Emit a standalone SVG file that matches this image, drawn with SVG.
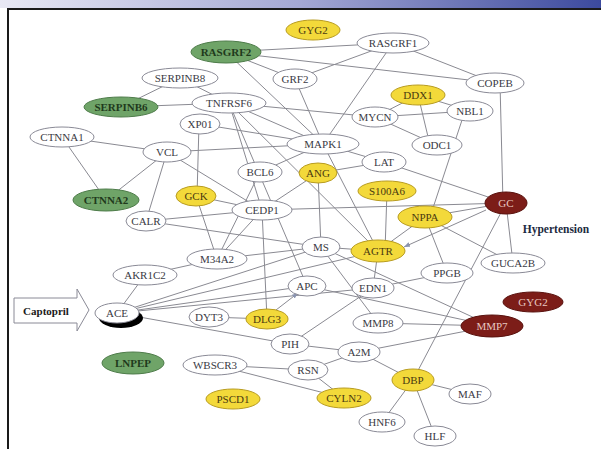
<svg xmlns="http://www.w3.org/2000/svg" width="601" height="449" viewBox="0 0 601 449">
<defs>
<linearGradient id="bar" x1="0" y1="0" x2="1" y2="0">
<stop offset="0" stop-color="#e8e8f4"/><stop offset="0.5" stop-color="#a4a8d4"/><stop offset="1" stop-color="#3c4a9e"/>
</linearGradient>
<marker id="ah" viewBox="0 0 10 10" refX="10" refY="5" markerWidth="6" markerHeight="6" orient="auto"><path d="M0,1 L10,5 L0,9 z" fill="#8a94b0"/></marker>
<style>
.e{stroke:#8a8a92;stroke-width:1;fill:none}
.w{fill:#fff;stroke:#8a8a96;stroke-width:1}
.y{fill:#f3d93a;stroke:#b89c20;stroke-width:1}
.g{fill:#6fa468;stroke:#4e7c4a;stroke-width:1}
.r{fill:#7c1d18;stroke:#5a120e;stroke-width:1}
text{font-family:"Liberation Serif","Times New Roman",serif;font-size:11px;text-anchor:middle;dominant-baseline:central;fill:#3a3a44}
.yt{fill:#4a3a10}
.gt{fill:#1f3a1c;font-weight:bold}
.rt{fill:#e8c8c0}
</style>
</defs>
<rect x="0" y="0" width="601" height="449" fill="#fff"/>
<rect x="0" y="0" width="601" height="8" fill="url(#bar)"/>
<rect x="7" y="8" width="594" height="2" fill="#1a1a1a"/>
<rect x="7" y="8" width="2" height="441" fill="#1a1a1a"/>
<g id="connectors">
<line class="e" x1="226" y1="52" x2="295" y2="79"/>
<line class="e" x1="226" y1="52" x2="393" y2="43"/>
<line class="e" x1="226" y1="52" x2="495" y2="83"/>
<line class="e" x1="226" y1="52" x2="323" y2="144"/>
<line class="e" x1="295" y1="79" x2="393" y2="43"/>
<line class="e" x1="295" y1="79" x2="323" y2="144"/>
<line class="e" x1="393" y1="43" x2="495" y2="83"/>
<line class="e" x1="393" y1="43" x2="323" y2="144"/>
<line class="e" x1="500" y1="83" x2="503" y2="203"/>
<line class="e" x1="418" y1="95" x2="375" y2="117"/>
<line class="e" x1="418" y1="95" x2="470" y2="111"/>
<line class="e" x1="418" y1="95" x2="430" y2="145"/>
<line class="e" x1="375" y1="117" x2="470" y2="111"/>
<line class="e" x1="375" y1="117" x2="437" y2="145"/>
<line class="e" x1="465" y1="111" x2="430" y2="217"/>
<line class="e" x1="229" y1="103" x2="375" y2="117"/>
<line class="e" x1="229" y1="103" x2="323" y2="144"/>
<line class="e" x1="180" y1="78" x2="121" y2="107"/>
<line class="e" x1="180" y1="78" x2="229" y2="103"/>
<line class="e" x1="121" y1="107" x2="229" y2="103"/>
<line class="e" x1="62" y1="137" x2="167" y2="152"/>
<line class="e" x1="62" y1="137" x2="106" y2="200"/>
<line class="e" x1="167" y1="152" x2="106" y2="200"/>
<line class="e" x1="167" y1="152" x2="146" y2="221"/>
<line class="e" x1="167" y1="152" x2="323" y2="144"/>
<line class="e" x1="167" y1="152" x2="262" y2="210"/>
<line class="e" x1="199" y1="124" x2="197" y2="196"/>
<line class="e" x1="200" y1="124" x2="323" y2="144"/>
<line class="e" x1="196" y1="196" x2="262" y2="210"/>
<line class="e" x1="196" y1="196" x2="217" y2="259"/>
<line class="e" x1="146" y1="221" x2="262" y2="210"/>
<line class="e" x1="146" y1="221" x2="321" y2="247"/>
<line class="e" x1="217" y1="259" x2="262" y2="210"/>
<line class="e" x1="217" y1="259" x2="260" y2="172"/>
<line class="e" x1="217" y1="259" x2="145" y2="275"/>
<line class="e" x1="217" y1="259" x2="321" y2="247"/>
<line class="e" x1="145" y1="275" x2="117" y2="313"/>
<line class="e" x1="117" y1="313" x2="290" y2="344"/>
<line class="e" x1="117" y1="313" x2="321" y2="247"/>
<line class="e" x1="117" y1="313" x2="307" y2="286"/>
<line class="e" x1="117" y1="313" x2="373" y2="288"/>
<line class="e" x1="117" y1="313" x2="378" y2="251"/>
<line class="e" x1="209" y1="317" x2="267" y2="319"/>
<line class="e" x1="276" y1="310" x2="298" y2="293" marker-end="url(#ah)"/>
<line class="e" x1="267" y1="319" x2="262" y2="210"/>
<line class="e" x1="290" y1="344" x2="359" y2="352"/>
<line class="e" x1="290" y1="344" x2="373" y2="288"/>
<line class="e" x1="359" y1="352" x2="492" y2="326"/>
<line class="e" x1="359" y1="352" x2="308" y2="370"/>
<line class="e" x1="359" y1="352" x2="413" y2="380"/>
<line class="e" x1="308" y1="370" x2="344" y2="398"/>
<line class="e" x1="215" y1="365" x2="308" y2="370"/>
<line class="e" x1="215" y1="365" x2="344" y2="398"/>
<line class="e" x1="413" y1="380" x2="470" y2="394"/>
<line class="e" x1="413" y1="380" x2="382" y2="422"/>
<line class="e" x1="413" y1="380" x2="435" y2="436"/>
<line class="e" x1="413" y1="380" x2="506" y2="203"/>
<line class="e" x1="378" y1="323" x2="492" y2="326"/>
<line class="e" x1="321" y1="247" x2="492" y2="326"/>
<line class="e" x1="307" y1="286" x2="492" y2="326"/>
<line class="e" x1="378" y1="251" x2="425" y2="217"/>
<line class="e" x1="385" y1="251" x2="387" y2="191"/>
<line class="e" x1="486" y1="210" x2="404" y2="247" marker-end="url(#ah)"/>
<line class="e" x1="378" y1="251" x2="373" y2="288"/>
<line class="e" x1="425" y1="217" x2="506" y2="203"/>
<line class="e" x1="425" y1="217" x2="447" y2="273"/>
<line class="e" x1="425" y1="217" x2="513" y2="263"/>
<line class="e" x1="506" y1="203" x2="513" y2="263"/>
<line class="e" x1="506" y1="203" x2="384" y2="162"/>
<line class="e" x1="262" y1="210" x2="506" y2="203"/>
<line class="e" x1="447" y1="273" x2="373" y2="288"/>
<line class="e" x1="323" y1="144" x2="384" y2="162"/>
<line class="e" x1="323" y1="144" x2="378" y2="251"/>
<line class="e" x1="318" y1="173" x2="384" y2="162"/>
<line class="e" x1="318" y1="173" x2="321" y2="247"/>
<line class="e" x1="318" y1="173" x2="262" y2="210"/>
<line class="e" x1="229" y1="103" x2="262" y2="210"/>
<line class="e" x1="229" y1="103" x2="307" y2="286"/>
<line class="e" x1="229" y1="103" x2="378" y2="251"/>
<line class="e" x1="260" y1="172" x2="323" y2="144"/>
<line class="e" x1="321" y1="247" x2="378" y2="251"/>
<line class="e" x1="321" y1="247" x2="378" y2="323"/>
</g>
<g id="n-GYG2a"><ellipse class="y" cx="313" cy="30" rx="27" ry="10"/><text class="yt" x="313" y="30">GYG2</text></g>
<g id="n-RASGRF2"><ellipse class="g" cx="226" cy="52" rx="35" ry="11"/><text class="gt" x="226" y="52">RASGRF2</text></g>
<g id="n-RASGRF1"><ellipse class="w" cx="393" cy="43" rx="36" ry="10"/><text x="393" y="43">RASGRF1</text></g>
<g id="n-GRF2"><ellipse class="w" cx="295" cy="79" rx="22" ry="10"/><text x="295" y="79">GRF2</text></g>
<g id="n-COPEB"><ellipse class="w" cx="495" cy="83" rx="29" ry="10"/><text x="495" y="83">COPEB</text></g>
<g id="n-SERPINB8"><ellipse class="w" cx="180" cy="78" rx="38" ry="10"/><text x="180" y="78">SERPINB8</text></g>
<g id="n-SERPINB6"><ellipse class="g" cx="121" cy="107" rx="37" ry="10"/><text class="gt" x="121" y="107">SERPINB6</text></g>
<g id="n-TNFRSF6"><ellipse class="w" cx="229" cy="103" rx="37" ry="10"/><text x="229" y="103">TNFRSF6</text></g>
<g id="n-DDX1"><ellipse class="y" cx="418" cy="95" rx="27" ry="10"/><text class="yt" x="418" y="95">DDX1</text></g>
<g id="n-NBL1"><ellipse class="w" cx="470" cy="111" rx="23" ry="10"/><text x="470" y="111">NBL1</text></g>
<g id="n-MYCN"><ellipse class="w" cx="375" cy="117" rx="23" ry="10"/><text x="375" y="117">MYCN</text></g>
<g id="n-XP01"><ellipse class="w" cx="200" cy="124" rx="20" ry="10"/><text x="200" y="124">XP01</text></g>
<g id="n-MAPK1"><ellipse class="w" cx="323" cy="144" rx="36" ry="10"/><text x="323" y="144">MAPK1</text></g>
<g id="n-ODC1"><ellipse class="w" cx="437" cy="145" rx="25" ry="10"/><text x="437" y="145">ODC1</text></g>
<g id="n-CTNNA1"><ellipse class="w" cx="62" cy="137" rx="32" ry="10"/><text x="62" y="137">CTNNA1</text></g>
<g id="n-VCL"><ellipse class="w" cx="167" cy="152" rx="24" ry="10"/><text x="167" y="152">VCL</text></g>
<g id="n-LAT"><ellipse class="w" cx="384" cy="162" rx="22" ry="10"/><text x="384" y="162">LAT</text></g>
<g id="n-BCL6"><ellipse class="w" cx="260" cy="172" rx="22" ry="10"/><text x="260" y="172">BCL6</text></g>
<g id="n-ANG"><ellipse class="y" cx="318" cy="173" rx="19" ry="10"/><text class="yt" x="318" y="173">ANG</text></g>
<g id="n-S100A6"><ellipse class="y" cx="387" cy="191" rx="29" ry="10"/><text class="yt" x="387" y="191">S100A6</text></g>
<g id="n-GC"><ellipse class="r" cx="506" cy="203" rx="21" ry="11"/><text class="rt" x="506" y="203">GC</text></g>
<g id="n-CTNNA2"><ellipse class="g" cx="106" cy="200" rx="33" ry="11"/><text class="gt" x="106" y="200">CTNNA2</text></g>
<g id="n-GCK"><ellipse class="y" cx="196" cy="196" rx="20" ry="10"/><text class="yt" x="196" y="196">GCK</text></g>
<g id="n-CEDP1"><ellipse class="w" cx="262" cy="210" rx="30" ry="10"/><text x="262" y="210">CEDP1</text></g>
<g id="n-NPPA"><ellipse class="y" cx="425" cy="217" rx="27" ry="11"/><text class="yt" x="425" y="217">NPPA</text></g>
<g id="n-CALR"><ellipse class="w" cx="146" cy="221" rx="20" ry="10"/><text x="146" y="221">CALR</text></g>
<g id="n-MS"><ellipse class="w" cx="321" cy="247" rx="19" ry="10"/><text x="321" y="247">MS</text></g>
<g id="n-AGTR"><ellipse class="y" cx="378" cy="251" rx="27" ry="11"/><text class="yt" x="378" y="251">AGTR</text></g>
<g id="n-M34A2"><ellipse class="w" cx="217" cy="259" rx="30" ry="10"/><text x="217" y="259">M34A2</text></g>
<g id="n-GUCA2B"><ellipse class="w" cx="513" cy="263" rx="32" ry="10"/><text x="513" y="263">GUCA2B</text></g>
<g id="n-PPGB"><ellipse class="w" cx="447" cy="273" rx="26" ry="10"/><text x="447" y="273">PPGB</text></g>
<g id="n-AKR1C2"><ellipse class="w" cx="145" cy="275" rx="32" ry="10"/><text x="145" y="275">AKR1C2</text></g>
<g id="n-APC"><ellipse class="w" cx="307" cy="286" rx="19" ry="10"/><text x="307" y="286">APC</text></g>
<g id="n-EDN1"><ellipse class="w" cx="373" cy="288" rx="21" ry="10"/><text x="373" y="288">EDN1</text></g>
<g id="n-GYG2b"><ellipse class="r" cx="533" cy="302" rx="30" ry="10"/><text class="rt" x="533" y="302">GYG2</text></g>
<g id="n-ACE"><ellipse cx="121" cy="318" rx="22" ry="10" fill="#000"/><ellipse class="w" cx="117" cy="313" rx="22" ry="10"/><text x="117" y="313">ACE</text></g>
<g id="n-DYT3"><ellipse class="w" cx="209" cy="317" rx="20" ry="10"/><text x="209" y="317">DYT3</text></g>
<g id="n-DLG3"><ellipse class="y" cx="267" cy="319" rx="21" ry="10"/><text class="yt" x="267" y="319">DLG3</text></g>
<g id="n-MMP8"><ellipse class="w" cx="378" cy="323" rx="25" ry="10"/><text x="378" y="323">MMP8</text></g>
<g id="n-MMP7"><ellipse class="r" cx="492" cy="326" rx="31" ry="11"/><text class="rt" x="492" y="326">MMP7</text></g>
<g id="n-PIH"><ellipse class="w" cx="290" cy="344" rx="19" ry="10"/><text x="290" y="344">PIH</text></g>
<g id="n-A2M"><ellipse class="w" cx="359" cy="352" rx="21" ry="10"/><text x="359" y="352">A2M</text></g>
<g id="n-LNPEP"><ellipse class="g" cx="133" cy="363" rx="31" ry="11"/><text class="gt" x="133" y="363">LNPEP</text></g>
<g id="n-WBSCR3"><ellipse class="w" cx="215" cy="365" rx="32" ry="10"/><text x="215" y="365">WBSCR3</text></g>
<g id="n-RSN"><ellipse class="w" cx="308" cy="370" rx="20" ry="10"/><text x="308" y="370">RSN</text></g>
<g id="n-DBP"><ellipse class="y" cx="413" cy="380" rx="21" ry="11"/><text class="yt" x="413" y="380">DBP</text></g>
<g id="n-MAF"><ellipse class="w" cx="470" cy="394" rx="21" ry="10"/><text x="470" y="394">MAF</text></g>
<g id="n-PSCD1"><ellipse class="y" cx="233" cy="399" rx="27" ry="10"/><text class="yt" x="233" y="399">PSCD1</text></g>
<g id="n-CYLN2"><ellipse class="y" cx="344" cy="398" rx="27" ry="10"/><text class="yt" x="344" y="398">CYLN2</text></g>
<g id="n-HNF6"><ellipse class="w" cx="382" cy="422" rx="23" ry="10"/><text x="382" y="422">HNF6</text></g>
<g id="n-HLF"><ellipse class="w" cx="435" cy="436" rx="21" ry="10"/><text x="435" y="436">HLF</text></g>
<g id="captopril"><polygon points="14,298 77,298 77,289 89,310 77,331 77,323 14,323" fill="#fff" stroke="#8a8a96"/><text x="46" y="311" style="font-weight:bold;fill:#1a1a1a">Captopril</text></g>
<text x="556" y="229" style="font-weight:bold;fill:#1c2a40;font-size:11.5px">Hypertension</text>
</svg>
